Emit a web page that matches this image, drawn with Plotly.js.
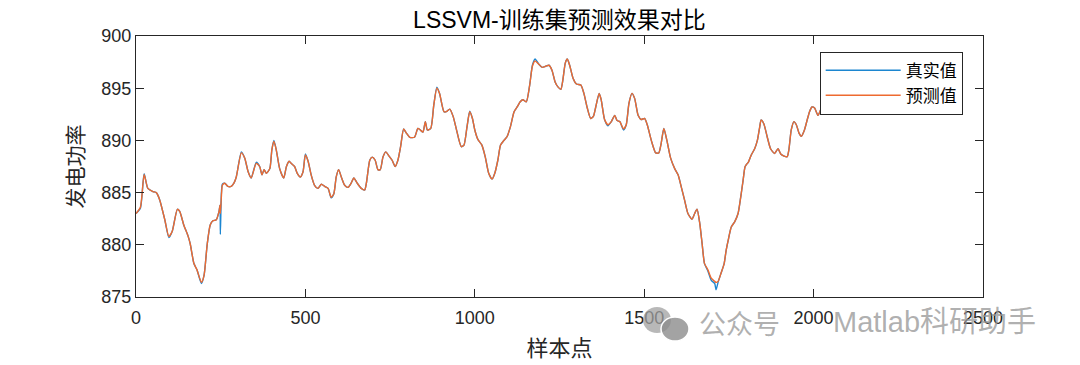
<!DOCTYPE html>
<html>
<head>
<meta charset="utf-8">
<script src="https://cdn.plot.ly/plotly-3.0.1.min.js"></script>
<style>html,body{margin:0;padding:0;background:#fff;}#chart{width:1080px;height:365px;}</style>
</head>
<body>
<div id="chart"></div>
<script>
const samples = [0,13,24,35,50,60,70,85,97,107,122,129,141,153,160,171,180,193,201,210,219,227,237,245,248,249,252,255,262,271,281,289,296,311,321,331,340,355,365,372,378,385,395,401,407,414,424,436,444,452,458,468,476,485,493,500,508,517,527,537,547,557,567,576,584,591,598,606,616,626,635,643,653,665,675,680,690,697,706,714,721,729,737,747,756,765,773,781,790,798,808,822,832,839,847,854,860,870,879,888,896,909,916,926,936,945,960,968,977,985,993,1000,1009,1021,1031,1041,1051,1059,1068,1076,1086,1095,1105,1116,1125,1134,1142,1152,1162,1170,1178,1189,1199,1209,1219,1228,1237,1246,1254,1260,1267,1273,1280,1290,1300,1313,1322,1332,1342,1350,1357,1367,1373,1383,1393,1403,1413,1420,1428,1439,1447,1455,1464,1472,1482,1491,1501,1509,1521,1534,1543,1550,1558,1567,1578,1590,1600,1609,1619,1629,1641,1649,1656,1664,1671,1678,1688,1698,1708,1712,1718,1727,1736,1742,1749,1757,1767,1777,1785,1792,1798,1808,1816,1826,1834,1841,1845,1853,1863,1873,1885,1895,1903,1913,1922,1927,1934,1942,1949,1957,1964,1973,1981,1988,1995,2003,2013,2023,2035,2045];

const predicted = [883.0,883.6,886.75,885.4,885.1,885.0,884.3,882.4,880.8,881.3,883.4,883.2,881.9,880.9,880.1,878.2,877.6,876.4,877.1,880.0,881.9,882.3,882.4,883.2,883.8,883.0,884.6,885.7,885.9,885.6,885.6,885.9,886.5,888.8,888.3,887.0,886.4,887.8,887.5,886.7,887.2,886.85,887.3,889.1,889.9,889.1,887.3,886.4,887.5,888.0,887.8,887.5,886.85,886.5,887.0,888.6,888.0,886.7,885.7,885.4,885.8,885.6,885.4,884.55,884.9,886.5,887.2,886.5,885.7,885.5,885.9,886.4,885.9,885.4,885.25,885.9,888.1,888.4,888.1,887.2,887.2,888.4,888.9,888.5,888.1,887.5,888.1,889.4,891.1,890.7,890.3,890.3,891.15,891.0,890.8,891.8,891.0,891.15,893.4,895.0,894.5,892.75,892.75,893.0,892.3,891.15,889.4,889.55,891.3,892.75,892.1,891.0,890.1,889.55,888.4,886.85,886.3,886.85,888.1,889.55,890.0,890.35,891.3,892.75,893.2,893.7,893.9,893.7,895.3,897.1,897.6,897.3,897.0,897.1,897.2,896.7,895.6,895.1,894.9,895.8,897.4,897.8,897.2,895.95,895.4,895.3,894.5,893.1,892.1,892.3,893.2,894.5,893.9,892.0,891.5,891.8,892.4,891.9,891.8,891.1,891.5,893.55,894.5,894.0,892.4,892.0,892.1,891.5,890.0,888.8,888.8,889.7,891.15,890.0,888.3,887.3,886.7,885.6,884.3,883.0,882.45,883.0,883.4,882.05,880.1,878.2,877.6,876.8,876.5,876.4,876.5,877.3,878.2,879.5,880.6,881.7,882.2,883.0,884.6,886.2,887.5,887.95,888.6,889.2,890.0,891.3,891.95,891.6,890.35,889.2,888.75,889.2,888.7,888.5,888.45,889.1,891.0,891.8,891.5,890.7,890.4,891.0,891.95,892.75,893.2,893.1,892.4,893.1,893.8,894.2];

const actual = [883.0,883.5,886.8,885.4,885.1,885.0,884.3,882.4,880.7,881.3,883.4,883.2,881.9,880.9,880.1,878.2,877.6,876.3,877.1,880.0,881.9,882.3,882.4,883.2,883.8,881.0,884.9,885.8,885.9,885.6,885.6,885.9,886.5,888.9,888.3,887.0,886.4,887.9,887.5,886.7,887.2,886.85,887.3,889.1,890.0,889.1,887.3,886.4,887.5,888.0,887.8,887.5,886.85,886.5,887.0,888.7,888.0,886.7,885.7,885.4,885.8,885.6,885.4,884.5,884.9,886.5,887.2,886.5,885.7,885.5,885.9,886.4,885.9,885.4,885.25,885.9,888.1,888.4,888.1,887.2,887.2,888.4,888.9,888.5,888.1,887.5,888.1,889.4,891.1,890.7,890.3,890.3,891.15,891.0,890.8,891.8,891.0,891.15,893.4,895.1,894.5,892.75,892.75,893.0,892.3,891.15,889.4,889.55,891.3,892.8,892.1,891.0,890.1,889.55,888.4,886.85,886.3,886.85,888.1,889.55,890.0,890.35,891.3,892.75,893.2,893.7,893.9,893.7,895.3,897.2,897.8,897.3,897.0,897.1,897.2,896.7,895.6,895.1,894.9,895.8,897.4,897.8,897.2,895.95,895.4,895.3,894.5,893.1,892.1,892.3,893.2,894.5,893.9,892.0,891.4,891.8,892.4,891.9,891.8,891.0,891.5,893.55,894.5,894.0,892.4,892.0,892.1,891.5,890.0,888.8,888.8,889.7,891.15,890.0,888.3,887.3,886.7,885.6,884.3,883.0,882.45,883.0,883.4,882.05,880.1,878.2,877.5,876.6,876.3,875.7,876.4,877.3,878.2,879.5,880.6,881.7,882.2,883.0,884.6,886.2,887.5,887.95,888.6,889.2,890.0,891.3,891.95,891.6,890.35,889.2,888.75,889.2,888.7,888.5,888.45,889.1,891.0,891.8,891.5,890.7,890.4,891.0,891.95,892.75,893.2,893.1,892.4,893.1,893.8,894.2];

const seriesNames = ['真实值', '预测值'];
const xTicks = [0, 500, 1000, 1500, 2000, 2500];
const yTicks = [875, 880, 885, 890, 895, 900];

const cjk = 'Liberation Sans, Arial, "Noto Sans CJK SC", sans-serif';
const axisColor = '#262626';

const traces = [
  {x: samples, y: actual, name: seriesNames[0], type: 'scatter', mode: 'lines',
   line: {color: '#1C86D0', width: 1.4, shape: 'spline', smoothing: 0.6}},
  {x: samples, y: predicted, name: seriesNames[1], type: 'scatter', mode: 'lines',
   line: {color: '#EE6A30', width: 1.4, shape: 'spline', smoothing: 0.6}}
];

const layout = {
  width: 1080, height: 365,
  margin: {l: 136, r: 97, t: 36, b: 68},
  paper_bgcolor: '#ffffff', plot_bgcolor: '#ffffff',
  title: {text: 'LSSVM-训练集预测效果对比', x: 0.518, xanchor: 'center', y: 0.945, yanchor: 'middle',
          font: {family: cjk, size: 23, color: '#000'}},
  xaxis: {range: [0, 2500], tickvals: xTicks, ticktext: xTicks.map(String),
          ticks: 'inside', ticklen: 8, tickcolor: axisColor, showline: true, linecolor: axisColor, linewidth: 1,
          mirror: 'ticks', showgrid: false, zeroline: false, ticklabelstandoff: 4,
          tickfont: {family: 'Liberation Sans, Arial, sans-serif', size: 18, color: axisColor},
          title: {text: '样本点', standoff: 14, font: {family: '"Noto Sans CJK SC", sans-serif', size: 22, color: axisColor}}},
  yaxis: {range: [875, 900], tickvals: yTicks, ticktext: yTicks.map(String),
          ticks: 'inside', ticklen: 8, tickcolor: axisColor, showline: true, linecolor: axisColor, linewidth: 1,
          mirror: 'ticks', showgrid: false, zeroline: false,
          tickfont: {family: 'Liberation Sans, Arial, sans-serif', size: 18, color: axisColor},
          title: {text: '发电功率', standoff: 12, font: {family: '"Noto Sans CJK SC", sans-serif', size: 21, color: axisColor}}},
  showlegend: true,
  legend: {x: 0.976, xanchor: 'right', y: 0.94, yanchor: 'top', bgcolor: '#ffffff',
           bordercolor: axisColor, borderwidth: 1, itemwidth: 75, tracegroupgap: 0,
           font: {family: '"Noto Sans CJK SC", sans-serif', size: 17, color: '#000'}}
};
// watermark (pixel-based placement converted to paper coords)
const pw = 1080 - 136 - 97, ph = 365 - 36 - 68;
function px2x(p){ return (p - 136) / pw; }
function py2y(p){ return (365 - 68 - p) / ph; }
layout.annotations = [
  {xref: 'paper', yref: 'paper', x: px2x(739), y: py2y(322), xanchor: 'center', yanchor: 'middle',
   text: '公众号', showarrow: false, font: {family: '"Noto Sans CJK SC", sans-serif', size: 27, color: 'rgba(150,150,150,0.75)'}},
  {xref: 'paper', yref: 'paper', x: px2x(934), y: py2y(322), xanchor: 'center', yanchor: 'middle',
   text: 'Matlab科研助手', showarrow: false, font: {family: 'Liberation Sans, "Noto Sans CJK SC", sans-serif', size: 29, color: 'rgba(150,150,150,0.75)'}}
];
layout.shapes = [
  {type: 'circle', xref: 'paper', yref: 'paper', x0: px2x(643), x1: px2x(671), y0: py2y(333), y1: py2y(307),
   fillcolor: 'rgba(160,160,160,0.75)', line: {width: 0}},
  {type: 'circle', xref: 'paper', yref: 'paper', x0: px2x(661), x1: px2x(689), y0: py2y(341), y1: py2y(317),
   fillcolor: 'rgba(140,140,140,0.8)', line: {color: '#ffffff', width: 1.5}}
];

Plotly.newPlot('chart', traces, layout, {displayModeBar: false, staticPlot: true});
</script>
</body>
</html>
